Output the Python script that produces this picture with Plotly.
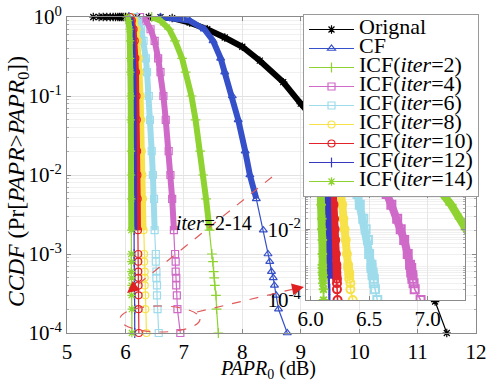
import plotly.graph_objects as go

# ---------------- data ----------------
CCDF_LEVELS = [1.0, 0.9, 0.7, 0.5, 0.3, 0.2, 0.1, 0.05, 0.02, 0.01, 5e-3, 2e-3,
               1e-3, 8e-4, 6e-4, 5e-4, 4e-4, 3e-4, 2e-4, 1e-4]

ORIG_PAPR = [5.45, 5.55, 5.62, 5.68, 5.74, 5.79, 5.83, 5.87, 5.90, 5.93, 5.96, 6.0,
             6.2, 6.4, 6.6, 6.8, 7.1, 7.4, 7.7, 8.0, 8.3, 8.7, 9.0, 9.5, 10.0, 10.3,
             10.7, 11.0, 11.3, 11.5]
ORIG_CCDF = [1, 1, 1, 1, 1, 1, 1, 1, 1, 1, 1, 1,
             1, 1, 0.995, 0.97, 0.85, 0.7, 0.55, 0.42, 0.28, 0.15, 0.08, 0.03, 0.011, 6e-3,
             1.8e-3, 7e-4, 2.5e-4, 1e-4]

CF_PAPR = [6.6, 7.1, 7.35, 7.5, 7.63, 7.7, 7.83, 7.93, 8.05, 8.13, 8.24, 8.36,
           8.44, 8.47, 8.5, 8.53, 8.55, 8.58, 8.62, 8.77]
ICF2_PAPR = [6.45, 6.6, 6.75, 6.85, 6.97, 7.03, 7.13, 7.2, 7.28, 7.33, 7.38, 7.44,
             7.48, 7.5, 7.51, 7.52, 7.53, 7.55, 7.56, 7.59]
ICF4_PAPR = [6.25, 6.35, 6.43, 6.5, 6.56, 6.6, 6.65, 6.69, 6.74, 6.77, 6.8, 6.83,
             6.85, 6.86, 6.86, 6.87, 6.87, 6.88, 6.89, 6.94]
ICF6_PAPR = [6.15, 6.22, 6.27, 6.31, 6.35, 6.37, 6.40, 6.42, 6.45, 6.47, 6.49, 6.5,
             6.52, 6.52, 6.53, 6.53, 6.54, 6.54, 6.55, 6.57]
ICF8_PAPR = [6.1, 6.15, 6.19, 6.21, 6.23, 6.24, 6.26, 6.27, 6.28, 6.29, 6.3, 6.31,
             6.32, 6.32, 6.33, 6.33, 6.33, 6.34, 6.34, 6.36]
ICF10_PAPR = [6.08, 6.11, 6.14, 6.16, 6.17, 6.18, 6.19, 6.195, 6.2, 6.205, 6.21, 6.215,
              6.22, 6.22, 6.22, 6.22, 6.225, 6.225, 6.225, 6.23]
ICF12_PAPR = [6.06, 6.09, 6.11, 6.12, 6.13, 6.135, 6.14, 6.14, 6.145, 6.145, 6.15, 6.15,
              6.15, 6.15, 6.155, 6.155, 6.155, 6.155, 6.16, 6.16]
ICF14_PAPR = [6.02, 6.05, 6.07, 6.08, 6.08, 6.085, 6.09, 6.09, 6.095, 6.095, 6.1, 6.1,
              6.1, 6.1, 6.1, 6.105, 6.105, 6.105, 6.11, 6.11]

SERIES_NAMES = ["Orignal", "CF", "ICF(<i>iter</i>=2)", "ICF(<i>iter</i>=4)",
                "ICF(<i>iter</i>=6)", "ICF(<i>iter</i>=8)", "ICF(<i>iter</i>=10)",
                "ICF(<i>iter</i>=12)", "ICF(<i>iter</i>=14)"]

X_TICKS = [5, 6, 7, 8, 9, 10, 11, 12]
Y_TICKS = [1e-4, 1e-3, 1e-2, 1e-1, 1]
Y_TICK_TEXT = ["10<sup>-4</sup>", "10<sup>-3</sup>", "10<sup>-2</sup>", "10<sup>-1</sup>", "10<sup>0</sup>"]
INSET_X_TICKS = [6.0, 6.5, 7.0]
INSET_X_TEXT = ["6.0", "6.5", "7.0"]
INSET_Y_TICKS = [1e-4, 1e-2]
INSET_Y_TEXT = ["10<sup>-4</sup>", "10<sup>-2</sup>"]

# ---------------- styling ----------------
FONT = "Liberation Serif"
STYLES = [
    dict(color="#000000", symbol="asterisk-open"),
    dict(color="#3550c8", symbol="triangle-up-open"),
    dict(color="#8fd332", symbol="cross-thin-open"),
    dict(color="#cf6ac8", symbol="square-open"),
    dict(color="#9edcec", symbol="square-open"),
    dict(color="#f7e24a", symbol="circle-open"),
    dict(color="#e2232a", symbol="circle-open"),
    dict(color="#3838c0", symbol="line-ns-open"),
    dict(color="#8fd332", symbol="asterisk-open"),
]

series = [(ORIG_PAPR, ORIG_CCDF, 27)]
series.append((CF_PAPR, CCDF_LEVELS, 10))
for arr in [ICF2_PAPR, ICF4_PAPR, ICF6_PAPR, ICF8_PAPR, ICF10_PAPR, ICF12_PAPR, ICF14_PAPR]:
    series.append((arr, CCDF_LEVELS, 11))

fig = go.Figure()

# main plot
for i, ((xs, ys, band_end), st, name) in enumerate(zip(series, STYLES, SERIES_NAMES)):
    start = 10 if i == 0 else 0
    fig.add_trace(go.Scatter(
        x=xs[start:band_end + 1], y=ys[start:band_end + 1], mode="lines",
        line=dict(color=st["color"], width=6), showlegend=False, hoverinfo="skip",
        xaxis="x", yaxis="y"))
    fig.add_trace(go.Scatter(
        x=xs, y=ys, mode="lines+markers",
        name='<span style="font-size:22px">' + name + '</span>',
        line=dict(color=st["color"], width=1.2),
        marker=dict(symbol=st["symbol"], size=7, color=st["color"],
                    line=dict(color=st["color"], width=1.2)),
        cliponaxis=False, xaxis="x", yaxis="y"))

# inset (ICF series only)
for i in range(2, 9):
    xs, ys, _ = series[i]
    st = STYLES[i]
    fig.add_trace(go.Scatter(
        x=xs[:17], y=ys[:17], mode="lines",
        line=dict(color=st["color"], width=8), showlegend=False, hoverinfo="skip",
        xaxis="x2", yaxis="y2"))
    fig.add_trace(go.Scatter(
        x=xs, y=ys, mode="lines+markers",
        line=dict(color=st["color"], width=1.5),
        marker=dict(symbol=st["symbol"], size=8, color=st["color"],
                    line=dict(color=st["color"], width=2)),
        showlegend=False, xaxis="x2", yaxis="y2"))

L, R, T, B = 67, 13, 17, 48
W, H = 489, 381
PW, PH = W - L - R, H - T - B


def pxx(p):
    return (p - L) / PW


def pxy(p):
    return (H - B - p) / PH


minor_vals = [k * 10 ** e for e in range(-4, 0) for k in range(2, 10)]
axis_common = dict(showline=True, linecolor="#8a8a8a", linewidth=1, mirror="ticks",
                   ticks="inside", ticklen=4, tickcolor="#8a8a8a",
                   tickfont=dict(family=FONT, size=21, color="black"),
                   zeroline=False, automargin=False)

fig.update_layout(
    width=W, height=H,
    margin=dict(l=L, r=R, t=T, b=B, autoexpand=False),
    paper_bgcolor="white", plot_bgcolor="white",
    font=dict(family=FONT, color="black"),
    xaxis=dict(domain=[0, 1], range=[5, 12], tickvals=X_TICKS,
               gridcolor="#e6e6e6", showgrid=True, **axis_common),
    yaxis=dict(domain=[0, 1], type="log", range=[-4, 0], tickvals=Y_TICKS,
               ticktext=Y_TICK_TEXT, gridcolor="#e2e2e2", showgrid=True,
               minor=dict(tickvals=minor_vals, ticks="inside", ticklen=2, tickcolor="#aaaaaa",
                          showgrid=True, gridcolor="#f0f0f0"),
               **axis_common),
    xaxis2=dict(domain=[pxx(306), pxx(465)], anchor="y2", range=[5.96, 7.32],
                tickvals=INSET_X_TICKS, ticktext=INSET_X_TEXT,
                gridcolor="#e6e6e6", showgrid=True, **axis_common),
    yaxis2=dict(domain=[pxy(300), pxy(194)], anchor="x2", type="log", range=[-4, -1],
                tickvals=INSET_Y_TICKS, ticktext=INSET_Y_TEXT,
                gridcolor="#e6e6e6", showgrid=True,
                minor=dict(tickvals=minor_vals, ticks="inside", ticklen=2, tickcolor="#aaaaaa",
                           showgrid=True, gridcolor="#f0f0f0"),
                **axis_common),
    legend=dict(xref="container", yref="container", x=303 / W, y=1 - 14 / H,
                xanchor="left", yanchor="top",
                bgcolor="white", bordercolor="#9a9a9a", borderwidth=1,
                font=dict(family=FONT, size=12.2, color="black"),
                itemwidth=45, tracegroupgap=0),
    showlegend=True,
)

# axis titles
fig.add_annotation(xref="paper", yref="paper", x=pxx(268), y=pxy(369),
                   xanchor="center", yanchor="middle",
                   text="<i>PAPR</i><sub>0</sub> (dB)", showarrow=False,
                   font=dict(family=FONT, size=20, color="black"))
fig.add_annotation(xref="paper", yref="paper", x=pxx(18), y=pxy(182), textangle=-90,
                   xanchor="center", yanchor="middle",
                   text="<i>CCDF</i> (Pr[<i>PAPR</i>&gt;<i>PAPR</i><sub>0</sub>])",
                   showarrow=False, font=dict(family=FONT, size=23.5, color="black"))

RED = "#e05a5a"
fig.add_shape(type="line", xref="paper", yref="paper",
              x0=pxx(272), y0=pxy(177), x1=pxx(131), y1=pxy(290),
              line=dict(color=RED, width=1.2, dash="dash"))
fig.add_shape(type="circle", xref="paper", yref="paper",
              x0=pxx(120), y0=pxy(332), x1=pxx(200), y1=pxy(306),
              line=dict(color=RED, width=1.2, dash="dash"))
fig.add_shape(type="line", xref="paper", yref="paper",
              x0=pxx(197), y0=pxy(312), x1=pxx(298), y1=pxy(288),
              line=dict(color=RED, width=1.2, dash="dash"))
fig.add_annotation(xref="paper", yref="paper", x=pxx(127), y=pxy(293), ax=9, ay=-7,
                   text="", showarrow=True, arrowhead=2, arrowsize=1.6, arrowwidth=1.5,
                   arrowcolor="#e02020")
fig.add_annotation(xref="paper", yref="paper", x=pxx(304), y=pxy(287), ax=-10, ay=2,
                   text="", showarrow=True, arrowhead=2, arrowsize=1.6, arrowwidth=1.5,
                   arrowcolor="#e02020")
fig.add_annotation(xref="paper", yref="paper", x=pxx(214), y=pxy(223),
                   xanchor="center", yanchor="middle",
                   text="<i>iter</i>=2-14", showarrow=False,
                   font=dict(family=FONT, size=20, color="black"))

fig.write_html("out.html", config={"displayModeBar": False},
               post_script="document.body.style.margin='0px';")
